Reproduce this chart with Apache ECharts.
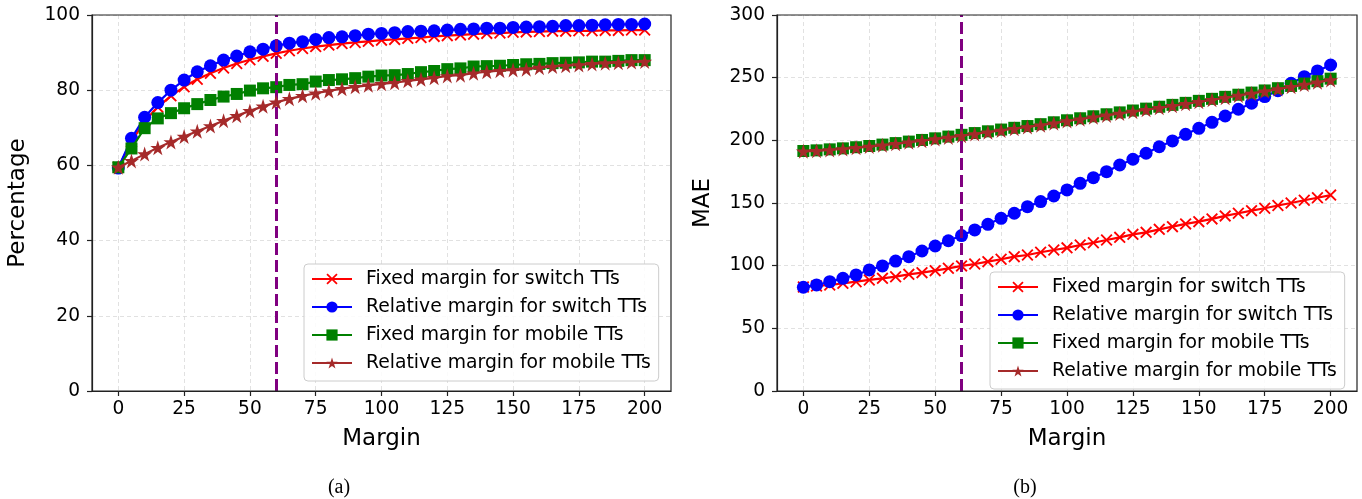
<!DOCTYPE html>
<html>
<head>
<meta charset="utf-8">
<script src="https://cdn.jsdelivr.net/npm/echarts@6/dist/echarts.min.js"></script>
<style>
  html, body { margin: 0; padding: 0; background: #fff; }
  #chart { width: 1362px; height: 499px; }
</style>
</head>
<body>
<div id="chart"></div>
<script>
// margins (x values)
var margins = [0, 5, 10, 15, 20, 25, 30, 35, 40, 45, 50, 55, 60, 65, 70, 75, 80, 85, 90, 95, 100,
  105, 110, 115, 120, 125, 130, 135, 140, 145, 150, 155, 160, 165, 170, 175, 180, 185, 190, 195, 200];
var xTicks = [0, 25, 50, 75, 100, 125, 150, 175, 200];
var chosenMargin = 60;

var seriesNames = ['Fixed margin for switch TTs', 'Relative margin for switch TTs',
  'Fixed margin for mobile TTs', 'Relative margin for mobile TTs'];

// (a) percentage
var pctFixedSwitch = [59.5, 66.3, 71.8, 75.5, 78.5, 80.9, 82.9, 84.5, 85.9, 87.1, 88.1, 89.0, 89.8, 90.5, 91.1, 91.6, 92.0, 92.4, 92.7, 93.0, 93.3,
  93.5, 93.8, 94.0, 94.3, 94.5, 94.7, 94.9, 95.1, 95.2, 95.4, 95.5, 95.6, 95.7, 95.7, 95.8, 95.8, 95.9, 95.9, 96.0, 96.0];
var pctRelSwitch = [59.3, 67.2, 72.8, 76.7, 80.0, 82.7, 84.9, 86.5, 88.0, 89.1, 90.2, 90.9, 91.8, 92.5, 92.9, 93.5, 94.0, 94.2, 94.5, 94.9, 95.1,
  95.3, 95.6, 95.7, 95.8, 96.0, 96.2, 96.3, 96.5, 96.5, 96.7, 96.8, 96.9, 97.0, 97.2, 97.2, 97.3, 97.4, 97.5, 97.5, 97.6];
var pctFixedMobile = [59.5, 64.5, 69.9, 72.5, 73.9, 75.2, 76.3, 77.4, 78.3, 79.0, 79.9, 80.5, 80.8, 81.4, 81.6, 82.3, 82.7, 82.9, 83.2, 83.6, 83.9,
  84.0, 84.3, 84.8, 85.1, 85.6, 85.8, 86.3, 86.4, 86.5, 86.7, 86.9, 87.0, 87.2, 87.3, 87.4, 87.6, 87.6, 87.8, 88.0, 88.0];
var pctRelMobile = [59.5, 61.2, 63.0, 64.7, 66.2, 67.7, 69.1, 70.5, 71.9, 73.2, 74.5, 75.7, 76.8, 77.7, 78.5, 79.2, 79.8, 80.4, 80.9, 81.3, 81.7,
  82.0, 82.5, 82.9, 83.3, 83.8, 84.0, 84.5, 84.9, 85.2, 85.4, 85.6, 86.0, 86.3, 86.5, 86.7, 87.0, 87.2, 87.3, 87.5, 87.6];

// (b) MAE
var maeFixedSwitch = [83.0, 83.8, 84.6, 85.9, 87.2, 88.6, 89.9, 91.2, 93.1, 94.4, 96.0, 97.9, 99.8, 101.3, 103.2, 105.1, 107.2, 108.5, 110.7, 112.5, 114.2,
  116.5, 118.3, 120.5, 122.6, 125.0, 126.6, 129.0, 131.1, 133.3, 135.1, 137.3, 139.7, 141.8, 143.9, 145.8, 148.0, 150.0, 152.2, 154.2, 156.3];
var maeRelSwitch = [82.8, 84.6, 87.2, 89.9, 92.6, 96.6, 99.8, 103.7, 107.2, 111.7, 115.7, 119.9, 124.0, 128.5, 133.0, 137.8, 141.8, 147.1, 151.1, 155.6, 160.4,
  165.7, 170.2, 175.0, 180.3, 184.9, 189.7, 194.9, 199.5, 204.8, 209.6, 214.4, 219.4, 224.8, 229.6, 234.9, 239.6, 245.5, 250.8, 255.4, 260.1];
var maeFixedMobile = [191.5, 192.0, 192.8, 193.6, 194.5, 195.5, 196.6, 197.8, 199.0, 200.3, 201.6, 203.0, 204.4, 205.8, 207.2, 208.6, 210.0, 211.4, 212.9, 214.4, 216.0,
  217.6, 219.2, 220.8, 222.3, 223.8, 225.3, 226.8, 228.3, 229.9, 231.5, 233.1, 234.7, 236.4, 238.1, 239.8, 241.6, 243.4, 245.3, 247.2, 249.2];
var maeRelMobile = [191.2, 191.6, 192.3, 193.1, 194.0, 195.0, 196.1, 197.2, 198.4, 199.7, 201.0, 202.3, 203.7, 205.1, 206.5, 207.9, 209.3, 210.7, 212.1, 213.7, 215.4,
  216.9, 218.4, 219.9, 221.4, 222.9, 224.4, 225.9, 227.5, 229.1, 230.7, 232.3, 234.0, 235.7, 237.4, 239.1, 240.9, 242.7, 244.5, 246.3, 248.2];

var FONT = 'DejaVu Sans';
var crossPath = 'path://M0,2.2 L2.2,0 L10,7.8 L17.8,0 L20,2.2 L12.2,10 L20,17.8 L17.8,20 L10,12.2 L2.2,20 L0,17.8 L7.8,10 Z';
var starPath = 'path://M10,0 L12.245,6.91 L19.511,6.91 L13.633,11.18 L15.878,18.09 L10,13.82 L4.122,18.09 L6.367,11.18 L0.489,6.91 L7.755,6.91 Z';
var colors = ['#ff0000', '#0000ff', '#008000', '#a52a2a'];
var symbols = [crossPath, 'circle', 'rect', starPath];
var symbolSizes = [12, 13, 12, 15];

// plot boxes [left, top, width, height]
var boxes = [[92, 15, 579, 376], [777, 15, 580, 376]];

function pairs(vals) {
  var out = [];
  for (var i = 0; i < margins.length; i++) out.push([margins[i], vals[i]]);
  return out;
}

function xAxisFor(idx) {
  return {
    type: 'value', gridIndex: idx, min: -10, max: 210,
    name: 'Margin', nameLocation: 'middle', nameGap: 37,
    nameTextStyle: { fontFamily: FONT, fontSize: 23, color: '#000' },
    axisLine: { show: true, onZero: false, lineStyle: { color: '#222', width: 1.2 } },
    axisTick: { show: true, length: 5, customValues: xTicks, lineStyle: { color: '#222', width: 1.2 } },
    axisLabel: { customValues: xTicks, margin: 9, fontFamily: FONT, fontSize: 18.6, color: '#000' },
    splitLine: { show: true, lineStyle: { color: '#d9d9d9', width: 0.8, type: [4, 3] } }
  };
}

function yAxisFor(idx, name, max, interval) {
  return {
    type: 'value', gridIndex: idx, min: 0, max: max, interval: interval,
    name: name, nameLocation: 'middle', nameGap: 62,
    nameTextStyle: { fontFamily: FONT, fontSize: 23, color: '#000' },
    axisLine: { show: true, onZero: false, lineStyle: { color: '#222', width: 1.2 } },
    axisTick: { show: true, length: 5, lineStyle: { color: '#222', width: 1.2 } },
    axisLabel: { margin: 12, fontFamily: FONT, fontSize: 18.6, color: '#000' },
    splitLine: { show: true, lineStyle: { color: '#d9d9d9', width: 0.8, type: [4, 3] } }
  };
}

function legendFor(left, top) {
  return {
    data: seriesNames, orient: 'vertical', left: left, top: top,
    padding: [5, 8, 8, 7], itemGap: 8, itemWidth: 40, itemHeight: 14,
    backgroundColor: 'rgba(255,255,255,0.85)', borderColor: '#cccccc', borderWidth: 1, borderRadius: 4,
    selectedMode: false,
    textStyle: { fontFamily: FONT, fontSize: 18.8, lineHeight: 20, color: '#000', padding: [0, 0, 0, 9] }
  };
}

var seriesList = [];
var panels = [
  [pctFixedSwitch, pctRelSwitch, pctFixedMobile, pctRelMobile],
  [maeFixedSwitch, maeRelSwitch, maeFixedMobile, maeRelMobile]
];
panels.forEach(function (vals, p) {
  vals.forEach(function (v, i) {
    seriesList.push({
      name: seriesNames[i], type: 'line', xAxisIndex: p, yAxisIndex: p,
      data: pairs(v), symbol: symbols[i], symbolSize: symbolSizes[i],
      showAllSymbol: true, animation: false, z: 2 + i,
      lineStyle: { color: colors[i], width: 2.2 },
      itemStyle: { color: colors[i] }
    });
  });
  seriesList.push({
    name: 'chosen', type: 'line', xAxisIndex: p, yAxisIndex: p, data: [], z: 10,
    markLine: {
      symbol: 'none', silent: true, animation: false, label: { show: false },
      lineStyle: { color: '#800080', width: 3, type: [12, 5] },
      data: [{ xAxis: chosenMargin }]
    }
  });
});

var frames = boxes.map(function (b) {
  return {
    type: 'rect', z: 100, silent: true,
    shape: { x: b[0], y: b[1], width: b[2], height: b[3] },
    style: { fill: 'none', stroke: '#222', lineWidth: 1.2 }
  };
});

var chart = echarts.init(document.getElementById('chart'));
chart.setOption({
  animation: false,
  grid: boxes.map(function (b) {
    return { left: b[0], top: b[1], width: b[2], height: b[3] };
  }),
  xAxis: [xAxisFor(0), xAxisFor(1)],
  yAxis: [yAxisFor(0, 'Percentage', 100, 20), yAxisFor(1, 'MAE', 300, 50)],
  legend: [legendFor(304, 264), legendFor(990, 272)],
  graphic: frames.concat([
    { type: 'text', x: 339, y: 488, style: { text: '(a)', font: '20px "Liberation Serif"', fill: '#000', align: 'center', verticalAlign: 'middle' } },
    { type: 'text', x: 1025, y: 488, style: { text: '(b)', font: '20px "Liberation Serif"', fill: '#000', align: 'center', verticalAlign: 'middle' } }
  ]),
  series: seriesList
});
</script>
</body>
</html>
